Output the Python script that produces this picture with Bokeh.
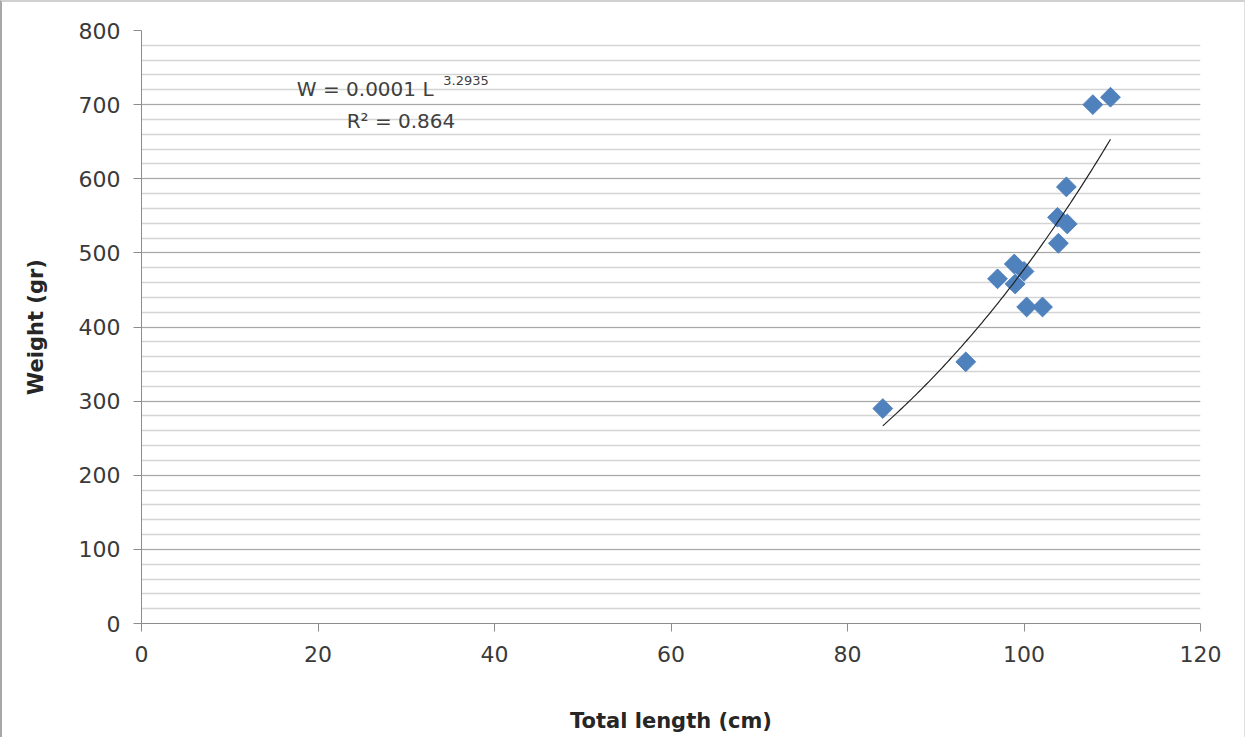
import numpy as np
from bokeh.plotting import figure
from bokeh.models import Label, SingleIntervalTicker, Range1d
from bokeh.embed import file_html
from bokeh.resources import INLINE

# Data
total_length_cm = [84.0, 93.4, 97.0, 98.9, 99.0, 100.0, 100.3, 102.1, 103.9, 103.8, 104.9, 104.8, 107.8, 109.8]
weight_gr = [290, 353, 465, 485, 458, 475, 427, 427, 513, 548, 539, 589, 700, 710]
equation_text = "W = 0.0001 L"
exponent_text = "3.2935"
r2_text = "R\u00b2 = 0.864"
x_title = "Total length (cm)"
y_title = "Weight (gr)"

FONT = "DejaVu Sans"
TXT = "#404040"

p = figure(width=1245, height=737, output_backend="svg", toolbar_location=None,
           x_range=Range1d(0, 120), y_range=Range1d(0, 800),
           min_border_left=139, min_border_right=47, min_border_top=28, min_border_bottom=116)
p.styles = {"border-left": "2px solid #a8a8a8", "border-top": "2px solid #d0d0d0",
            "border-right": "1px solid #e0e0e0"}
p.outline_line_color = None
p.background_fill_color = "white"
p.border_fill_color = "white"

# Axes
p.xaxis.ticker = SingleIntervalTicker(interval=20, num_minor_ticks=0)
p.yaxis.ticker = SingleIntervalTicker(interval=100, num_minor_ticks=5)
for ax in (p.xaxis[0], p.yaxis[0]):
    ax.axis_line_color = "#8c8c8c"
    ax.major_tick_line_color = "#8c8c8c"
    ax.major_tick_in = 0
    ax.major_tick_out = 8
    ax.minor_tick_line_color = None
    ax.major_label_text_font = FONT
    ax.major_label_text_font_size = "22px"
    ax.major_label_text_color = "#3a3a3a"
    ax.axis_label_text_font = FONT
    ax.axis_label_text_font_size = "21px"
    ax.axis_label_text_font_style = "bold"
    ax.axis_label_text_color = "#262626"
p.xaxis.axis_label = x_title
p.yaxis.axis_label = y_title
p.xaxis.major_label_standoff = 14
p.yaxis.major_label_standoff = 13
p.xaxis.axis_label_standoff = 44
p.yaxis.axis_label_standoff = 28

# Grids
p.xgrid.grid_line_color = None
p.ygrid.grid_line_color = "#a8a8a8"
p.ygrid.grid_line_width = 1
p.ygrid.minor_grid_line_color = "#d4d4d4"
p.ygrid.minor_grid_line_width = 1.5

# Power trendline fitted to data (as Excel does)
lx = np.log(np.array(total_length_cm))
ly = np.log(np.array(weight_gr))
b, ln_a = np.polyfit(lx, ly, 1)
xs = np.linspace(min(total_length_cm), max(total_length_cm), 120)
ys = np.exp(ln_a) * xs ** b

p.scatter(total_length_cm, weight_gr, marker="square", size=14, angle=np.pi / 4,
          fill_color="#4f81bd", line_color="#4f81bd", line_width=1)
p.line(xs, ys, line_color="#222222", line_width=1.2)

# Equation annotations
p.add_layout(Label(x=17.6, y=720.5, text=equation_text, text_font=FONT, text_font_size="20px",
                   text_color=TXT, text_baseline="middle", text_align="left"))
p.add_layout(Label(x=34.2, y=733, text=exponent_text, text_font=FONT, text_font_size="13px",
                   text_color=TXT, text_baseline="middle", text_align="left"))
p.add_layout(Label(x=29.4, y=677.5, text=r2_text, text_font=FONT, text_font_size="20px",
                   text_color=TXT, text_baseline="middle", text_align="center"))

open("out.html", "w").write(file_html(p, INLINE))
